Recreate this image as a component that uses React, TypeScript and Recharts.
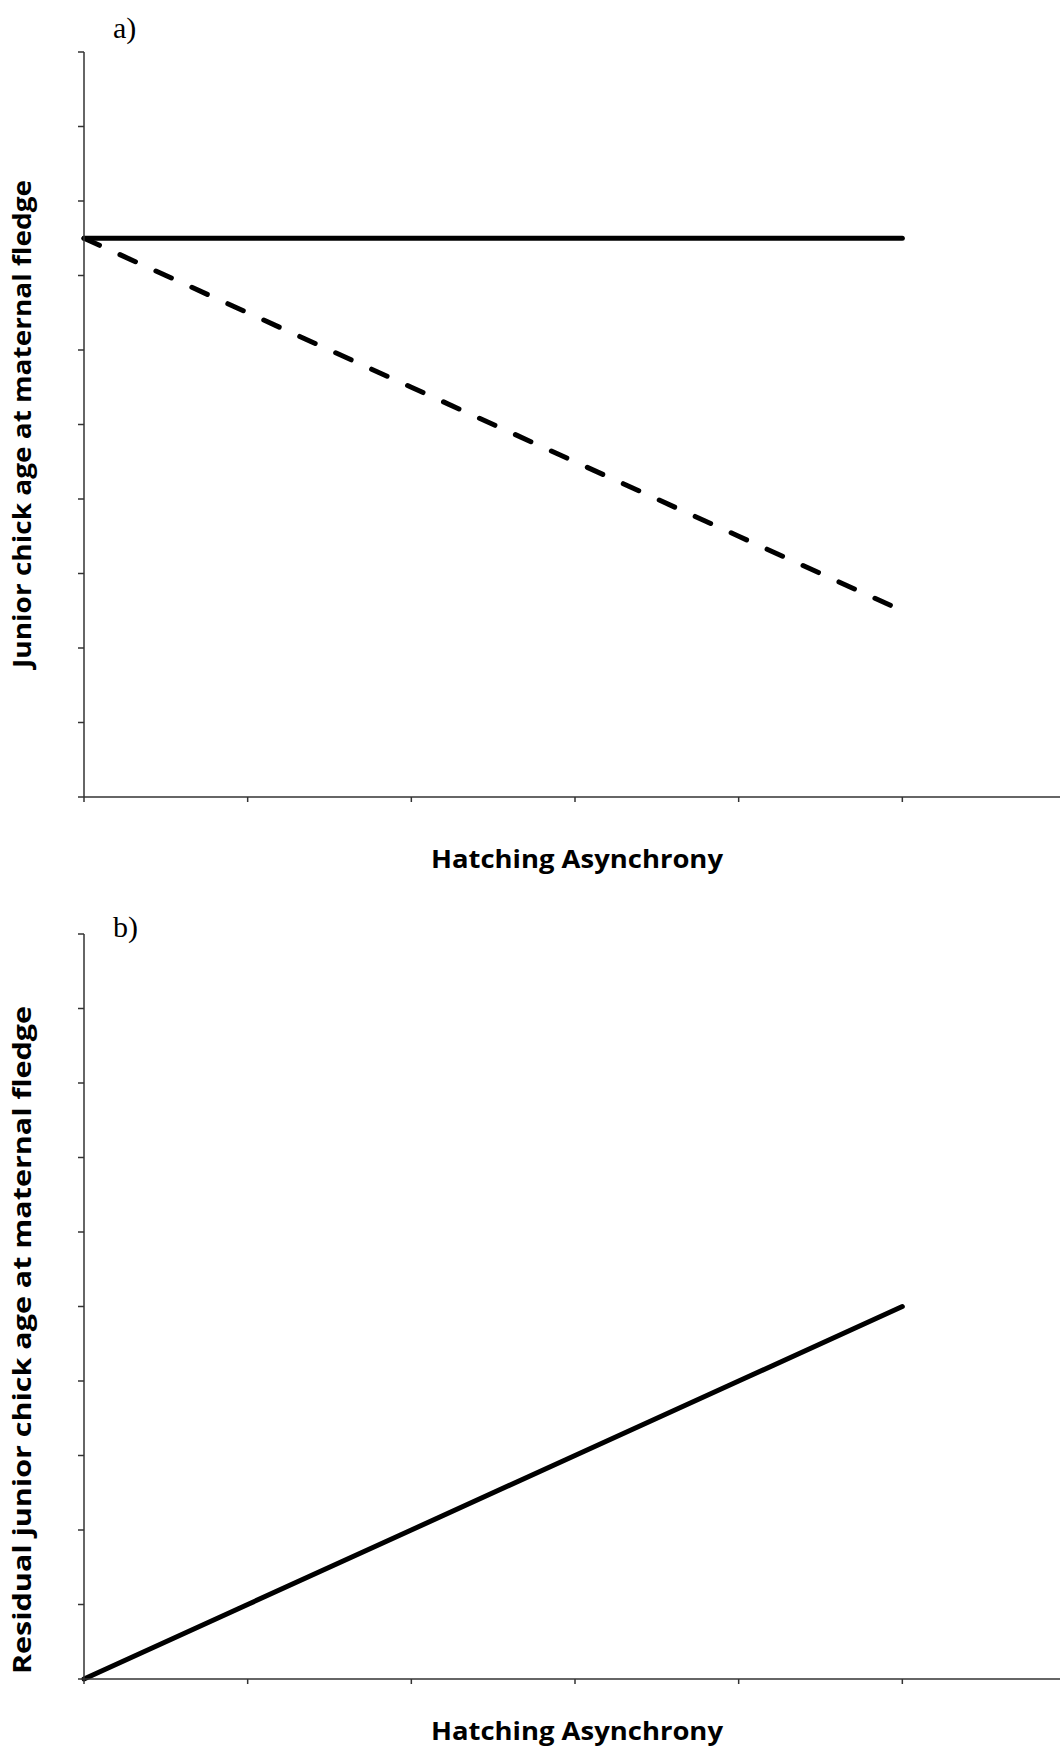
import React from 'react';
import { LineChart, Line, XAxis, YAxis, Label } from 'recharts';

// asynchrony steps along the x axis
const asynchrony = [0, 1, 2, 3, 4, 5];
const xTicks = [0, 1, 2, 3, 4, 5, 6];
const yTicks = [0, 1, 2, 3, 4, 5, 6, 7, 8, 9, 10];

// panel a: junior chick age at maternal fledge
const ageNoEffect = [7.5, 7.5, 7.5, 7.5, 7.5, 7.5];
const ageDeclining = [7.5, 6.5, 5.5, 4.5, 3.5, 2.5];

// panel b: residual junior chick age at maternal fledge
const residualAge = [0, 1, 2, 3, 4, 5];

const panelA = asynchrony.map((x, i) => ({ x, flat: ageNoEffect[i], down: ageDeclining[i] }));
const panelB = asynchrony.map((x, i) => ({ x, resid: residualAge[i] }));

const AXIS = '#333';
const LABEL_FONT = '"Open Sans", "DejaVu Sans", sans-serif';

interface PanelText {
  tag: string;
  tagBaseline: number;
  yTitle: string;
  yCenter: number;
  yLength: number;
  xBaseline: number;
}

// draws the panel tag, y title and x title in one go
function panelLabels(t: PanelText) {
  return () => (
    <g>
      <text x={113} y={t.tagBaseline} fontFamily='"Liberation Serif", "Times New Roman", serif' fontSize={30} fill="#000">
        {t.tag}
      </text>
      <text
        x={31}
        y={t.yCenter}
        transform={`rotate(-90, 31, ${t.yCenter})`}
        textAnchor="middle"
        fontFamily={LABEL_FONT}
        fontWeight={700}
        fontSize={25}
        textLength={t.yLength}
        lengthAdjust="spacingAndGlyphs"
        fill="#000"
      >
        {t.yTitle}
      </text>
      <text
        x={577}
        y={t.xBaseline}
        textAnchor="middle"
        fontFamily={LABEL_FONT}
        fontWeight={700}
        fontSize={25}
        textLength={292}
        lengthAdjust="spacingAndGlyphs"
        fill="#000"
      >
        Hatching Asynchrony
      </text>
    </g>
  );
}

export default function App() {
  const xAxisProps = {
    dataKey: 'x',
    type: 'number' as const,
    domain: [0, 6],
    ticks: xTicks,
    tickFormatter: () => '',
    tickSize: 5,
    stroke: AXIS,
    strokeWidth: 1.5,
  };
  const yAxisProps = {
    type: 'number' as const,
    domain: [0, 10],
    ticks: yTicks,
    tickFormatter: () => '',
    tickSize: 6,
    width: 84,
    stroke: AXIS,
    strokeWidth: 1.5,
  };

  return (
    <div style={{ position: 'absolute', left: 0, top: 0, width: 1060, height: 1760, overflow: 'hidden', background: '#fff' }}>
      <div style={{ position: 'absolute', left: 0, top: 0 }}>
        <LineChart width={1100} height={880} data={panelA} margin={{ top: 52, right: 34, left: 0, bottom: 0 }}>
          <XAxis {...xAxisProps} height={83} />
          <YAxis {...yAxisProps}>
            <Label
              content={panelLabels({
                tag: 'a)',
                tagBaseline: 38,
                yTitle: 'Junior chick age at maternal fledge',
                yCenter: 424,
                yLength: 488,
                xBaseline: 868,
              })}
            />
          </YAxis>
          <Line
            dataKey="flat"
            stroke="#000"
            strokeWidth={5}
            strokeLinecap="round"
            dot={false}
            activeDot={false}
            isAnimationActive={false}
          />
          <Line
            dataKey="down"
            stroke="#000"
            strokeWidth={5}
            strokeLinecap="round"
            strokeDasharray="17 22.5"
            dot={false}
            activeDot={false}
            isAnimationActive={false}
          />
        </LineChart>
      </div>
      <div style={{ position: 'absolute', left: 0, top: 880 }}>
        <LineChart width={1100} height={880} data={panelB} margin={{ top: 54, right: 34, left: 0, bottom: 0 }}>
          <XAxis {...xAxisProps} height={81} />
          <YAxis {...yAxisProps}>
            <Label
              content={panelLabels({
                tag: 'b)',
                tagBaseline: 57,
                yTitle: 'Residual junior chick age at maternal fledge',
                yCenter: 460,
                yLength: 668,
                xBaseline: 860,
              })}
            />
          </YAxis>
          <Line
            dataKey="resid"
            stroke="#000"
            strokeWidth={5}
            strokeLinecap="round"
            dot={false}
            activeDot={false}
            isAnimationActive={false}
          />
        </LineChart>
      </div>
    </div>
  );
}
